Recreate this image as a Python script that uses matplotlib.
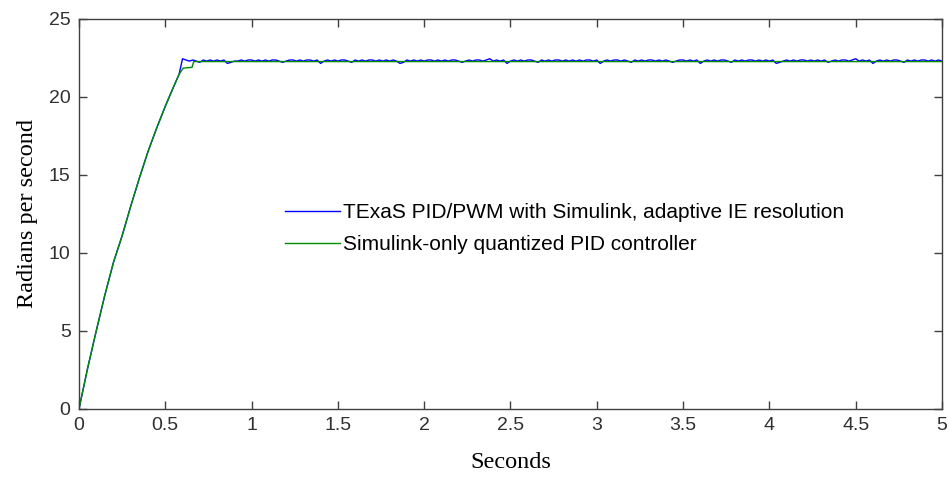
import numpy as np
import matplotlib.pyplot as plt

# rise portion (seconds, rad/s)
rise_t = [0, 0.05, 0.10, 0.15, 0.20, 0.25, 0.30, 0.35, 0.40, 0.45, 0.50, 0.55, 0.58]
rise_y = [0, 2.6, 5.0, 7.3, 9.4, 11.1, 13.0, 14.8, 16.5, 18.0, 19.4, 20.7, 21.45]

# green: small step before settling
green_t = [0.604, 0.655, 0.665, 5.0]
green_y = [21.85, 21.9, 22.27, 22.27]

# blue steady state: jitter levels every 0.02 s from 0.60 s
blue_levels = [22.15, 22.22, 22.3, 22.37, 22.45]
blue_code = (
    "4323213232323012232332323233212332323323023232332132323323"
    "2323201323232332323233212323323423230232323321323233232323"
    "2332302323323213232332323212332323023232332132323323232301"
    "232323323232312323323423230232323321323233232323"
)
blue_dt = 0.02
blue_start = 0.60

fig = plt.figure(figsize=(9.49, 4.78), dpi=100)
ax = fig.add_axes([0.0832, 0.1444, 0.9094, 0.8159])

blue_ss_y = [blue_levels[int(c)] for c in blue_code]
blue_ss_t = blue_start + blue_dt * np.arange(len(blue_ss_y))
bt = list(rise_t) + list(blue_ss_t)
by = list(rise_y) + blue_ss_y
gt = list(rise_t) + green_t
gy = list(rise_y) + green_y

ax.plot(bt, by, color=(0, 0, 1), lw=1.0,
        label='TExaS PID/PWM with Simulink, adaptive IE resolution')
ax.plot(gt, gy, color=(0, 0.55, 0), lw=1.0,
        label='Simulink-only quantized PID controller')

ax.set_xlim(0, 5)
ax.set_ylim(0, 25)
ax.set_xticks(np.arange(0, 5.01, 0.5))
ax.set_xticklabels(['0', '0.5', '1', '1.5', '2', '2.5', '3', '3.5', '4', '4.5', '5'])
ax.set_yticks([0, 5, 10, 15, 20, 25])

for s in ax.spines.values():
    s.set_color('#404040')
    s.set_linewidth(1.0)
ax.tick_params(direction='in', length=6, width=1.0, color='#404040',
               top=True, right=True, labelsize=14, labelcolor='#303030', pad=6)
for lab in ax.get_xticklabels() + ax.get_yticklabels():
    lab.set_family('Liberation Sans')

ax.set_xlabel('Seconds', family='Liberation Serif', fontsize=17.5, labelpad=13)
ax.set_ylabel('Radians per second', family='Liberation Serif', fontsize=17.5, labelpad=8)

ax.legend(loc='upper left', bbox_to_anchor=(0.300, 0.575), bbox_transform=fig.transFigure,
          frameon=False, borderpad=0, borderaxespad=0, handlelength=2.65,
          handletextpad=0.15, labelspacing=0.62,
          prop={'family': 'Liberation Sans', 'size': 15})

fig.savefig('out.png', dpi=100)
